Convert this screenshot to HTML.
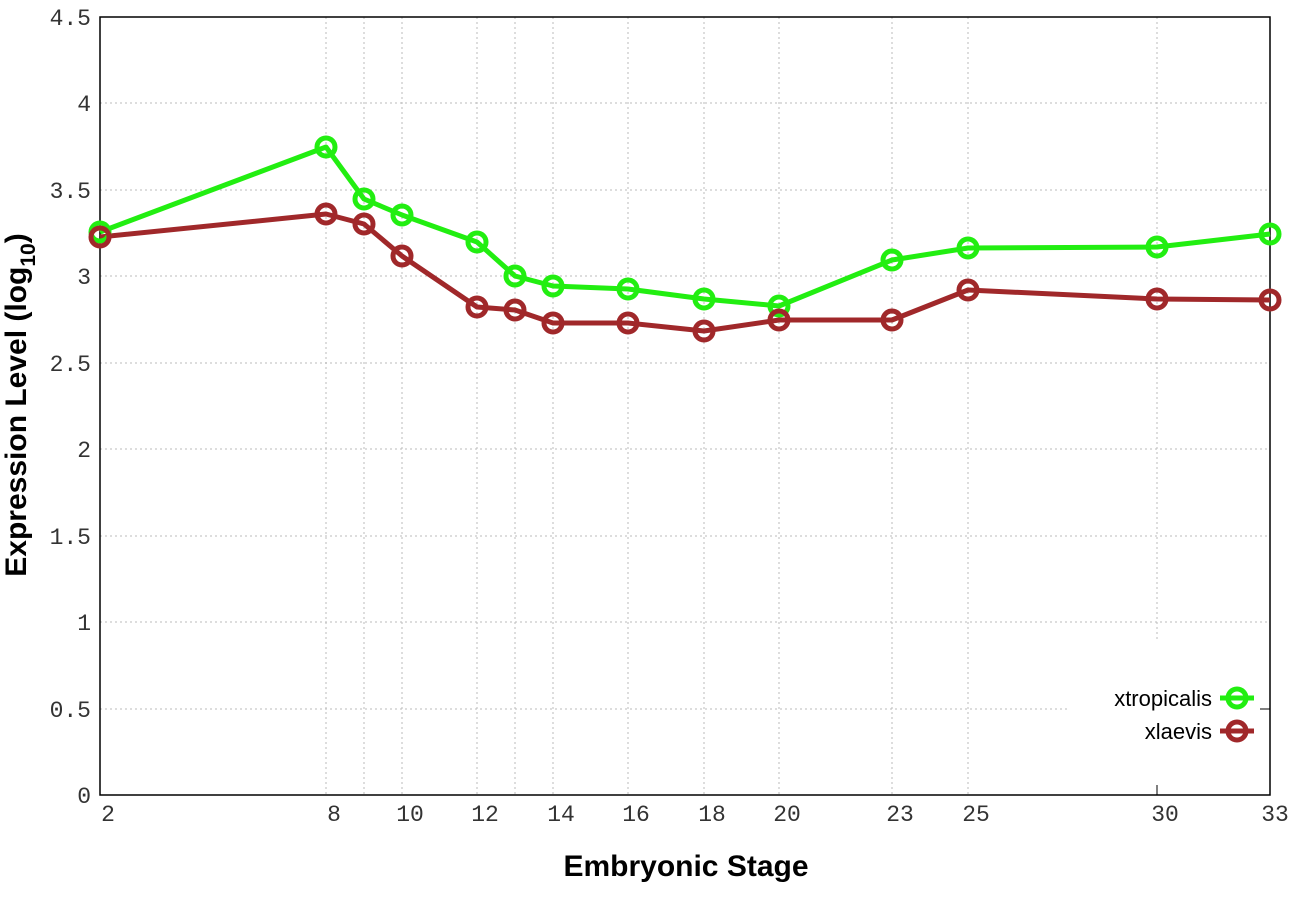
<!DOCTYPE html>
<html><head><meta charset="utf-8"><style>body{margin:0;background:#fff}</style></head><body>
<svg width="1296" height="907" xmlns="http://www.w3.org/2000/svg">
<rect width="1296" height="907" fill="#fff"/>
<g stroke="#bbb" stroke-width="1" stroke-dasharray="2,3">
<line x1="100" x2="1270" y1="103" y2="103"/><line x1="100" x2="1270" y1="190" y2="190"/>
<line x1="100" x2="1270" y1="276" y2="276"/><line x1="100" x2="1270" y1="363" y2="363"/>
<line x1="100" x2="1270" y1="449" y2="449"/><line x1="100" x2="1270" y1="536" y2="536"/>
<line x1="100" x2="1270" y1="622" y2="622"/><line x1="100" x2="1070" y1="709" y2="709"/>
<line x1="326" x2="326" y1="17" y2="795"/><line x1="364" x2="364" y1="17" y2="795"/>
<line x1="402" x2="402" y1="17" y2="795"/><line x1="477" x2="477" y1="17" y2="795"/>
<line x1="515" x2="515" y1="17" y2="795"/><line x1="553" x2="553" y1="17" y2="795"/>
<line x1="628" x2="628" y1="17" y2="795"/><line x1="704" x2="704" y1="17" y2="795"/>
<line x1="779" x2="779" y1="17" y2="795"/><line x1="892" x2="892" y1="17" y2="795"/>
<line x1="968" x2="968" y1="17" y2="795"/><line x1="1157" x2="1157" y1="17" y2="640"/>
</g>
<g stroke="#000" stroke-width="1">
<line x1="1157" x2="1157" y1="785" y2="795"/><line x1="1260" x2="1270" y1="709" y2="709"/>
</g>
<rect x="100" y="17" width="1170" height="778" fill="none" stroke="#000" stroke-width="1.5"/>
<g fill="none" stroke-linejoin="round" stroke-width="5">
<polyline stroke="#22ee11" points="100,232 326,147 364,199 402,215 477,242 515,276 553,286 628,289 704,299 779,306 892,260 968,248 1157,247 1270,234"/>
<polyline stroke="#a0282a" points="100,237 326,214 364,224 402,256 477,307 515,310 553,323 628,323 704,331 779,320 892,320 968,290 1157,299 1270,300"/>
</g>
<g fill="none" stroke-width="5" stroke="#22ee11">
<circle cx="100" cy="232" r="9"/><circle cx="326" cy="147" r="9"/><circle cx="364" cy="199" r="9"/><circle cx="402" cy="215" r="9"/><circle cx="477" cy="242" r="9"/><circle cx="515" cy="276" r="9"/><circle cx="553" cy="286" r="9"/><circle cx="628" cy="289" r="9"/><circle cx="704" cy="299" r="9"/><circle cx="779" cy="306" r="9"/><circle cx="892" cy="260" r="9"/><circle cx="968" cy="248" r="9"/><circle cx="1157" cy="247" r="9"/><circle cx="1270" cy="234" r="9"/>
<circle cx="1237" cy="698" r="9"/><line x1="1220" x2="1254" y1="698" y2="698"/>
</g>
<g fill="none" stroke-width="5" stroke="#a0282a">
<circle cx="100" cy="237" r="9"/><circle cx="326" cy="214" r="9"/><circle cx="364" cy="224" r="9"/><circle cx="402" cy="256" r="9"/><circle cx="477" cy="307" r="9"/><circle cx="515" cy="310" r="9"/><circle cx="553" cy="323" r="9"/><circle cx="628" cy="323" r="9"/><circle cx="704" cy="331" r="9"/><circle cx="779" cy="320" r="9"/><circle cx="892" cy="320" r="9"/><circle cx="968" cy="290" r="9"/><circle cx="1157" cy="299" r="9"/><circle cx="1270" cy="300" r="9"/>
<circle cx="1237" cy="731" r="9"/><line x1="1220" x2="1254" y1="731" y2="731"/>
</g>
<g font-family="Liberation Sans, sans-serif" font-size="22" text-anchor="end" fill="#000">
<text x="1212" y="706">xtropicalis</text><text x="1212" y="739">xlaevis</text>
</g>
<g font-family="Liberation Mono, monospace" font-size="23" fill="#333" text-anchor="end">
<text x="91" y="25">4.5</text><text x="91" y="111">4</text><text x="91" y="198">3.5</text><text x="91" y="284">3</text><text x="91" y="371">2.5</text><text x="91" y="457">2</text><text x="91" y="544">1.5</text><text x="91" y="630">1</text><text x="91" y="717">0.5</text><text x="91" y="803">0</text>
</g>
<g font-family="Liberation Mono, monospace" font-size="23" fill="#333" text-anchor="middle">
<text x="108" y="821">2</text><text x="334" y="821">8</text><text x="410" y="821">10</text><text x="485" y="821">12</text><text x="561" y="821">14</text><text x="636" y="821">16</text><text x="712" y="821">18</text><text x="787" y="821">20</text><text x="900" y="821">23</text><text x="976" y="821">25</text><text x="1165" y="821">30</text><text x="1275" y="821">33</text>
</g>
<text x="686" y="876" font-family="Liberation Sans, sans-serif" font-weight="bold" font-size="30" text-anchor="middle">Embryonic Stage</text>
<text transform="translate(26,405) rotate(-90)" font-family="Liberation Sans, sans-serif" font-weight="bold" font-size="30" text-anchor="middle">Expression Level (log<tspan font-size="21" dy="9">10</tspan><tspan dy="-9">)</tspan></text>
</svg>
</body></html>
